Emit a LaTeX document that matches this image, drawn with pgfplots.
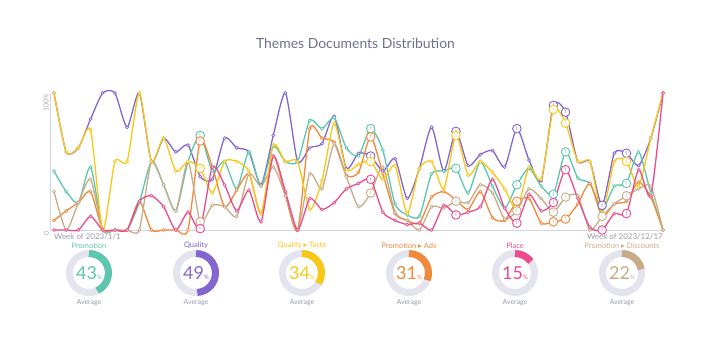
\documentclass[border=0pt]{standalone}
\usepackage{pgfplots}
\pgfplotsset{compat=1.18}
\usepackage{pgfplotstable}
\usepackage{fontspec}
\setmainfont{Lato}
\newfontfamily\symfont{DejaVu Sans}
\definecolor{cteal}{HTML}{5DC6AE}
\definecolor{cpurple}{HTML}{8466CF}
\definecolor{cyellow}{HTML}{F7C815}
\definecolor{corange}{HTML}{F0893A}
\definecolor{cpink}{HTML}{EE4B8E}
\definecolor{cbeige}{HTML}{C8AB88}
\definecolor{ctitle}{HTML}{6D7191}
\definecolor{clabel}{HTML}{9A9AAA}
\definecolor{caxis}{HTML}{D3D6E2}
\definecolor{ctrack}{HTML}{E4E4EF}

\pgfplotstableread{
x teal purple yellow orange pink beige
0 43 100 100 7 0 28
1 28 57 57 14 0 0
2 20 60 60 20 0 20
3 46 81 73 28 10 37
4 0 100 0 0 0 0
5 0 100 50 0 0 0
6 0 75 50 0 0 0
7 20 100 100 21 21 0
8 50 50 50 0 25 50
9 33 67 67 0 17 33
10 14 57 43 0 0 14
11 50 62 50 0 13 50
12 69 39 45 65 1 6
13 43 37 27 46 46 18
14 50 67 50 17 33 17
15 30 60 50 29 14 10
16 57 57 43 41 29 41
17 32 33 12 12 6 32
18 61 69 62 54 54 46
19 50 100 50 25 28 25
20 50 50 50 0 0 0
21 80 60 15 74 23 41
22 74 63 36 67 15 30
23 82 83 78 64 20 63
24 60 45 44 40 30 39
25 54 56 48 42 34 17
26 74 54 50 68 37 27
27 58 43 37 41 13 46
28 19 52 47 12 7 13
29 11 23 12 7 4 7
30 10 45 45 5 5 0
31 41 75 50 24 0 17
32 43 43 30 28 18 16
33 45 72 69 22 11 21
34 27 47 40 15 13 20
35 50 55 50 28 17 33
36 32 58 42 9 37 27
37 16 46 30 7 16 8
38 33 74 15 21 5 14
39 45 51 46 23 26 30
40 32 36 37 5 14 23
41 26 91 88 6 20 13
42 57 86 78 8 44 24
43 38 50 50 19 23 25
44 34 50 50 34 2 0
45 15 18 12 10 0 10
46 32 56 50 19 12 19
47 34 56 50 21 12 25
48 57 47 32 35 44 30
49 27 67 67 24 25 32
50 0 100 100 0 100 0
}\datatable

\pgfplotsset{
  ser/.style={color=#1, line width=1.3bp, smooth, tension=0.4, mark=*, mark size=1.5bp,
    mark options={fill=white, draw=#1, line width=0.7bp}},
  anom/.style={only marks, mark=*, mark size=4.3bp,
    mark options={fill=white, draw=#1, line width=0.9bp},
    nodes near coords={!},
    every node near coord/.append style={anchor=center, inner sep=0pt, text=#1,
      font=\fontsize{5}{5}\selectfont\bfseries}},
}

\begin{document}
\begin{tikzpicture}[x=1bp,y=1bp]
\path[use as bounding box] (0,0) rectangle (711,360);
\node[text=ctitle, font=\fontsize{14}{16}\selectfont] at (355.5,317) {Themes Documents Distribution};
\begin{axis}[at={(50bp,130bp)}, anchor=south west, scale only axis,
  width=613bp, height=137bp, xmin=-0.33, xmax=50, ymin=0, ymax=100,
  axis x line=bottom, axis y line=left,
  axis line style={draw=caxis, line width=0.8bp, -},
  xtick=\empty, ytick={0,100}, yticklabels={0,100\%},
  yticklabel style={rotate=90, anchor=south east, text=clabel!85,
    font=\fontsize{7}{7}\selectfont, inner sep=1pt},
  major tick length=0, clip=false]
\addplot[ser=cpurple] table[x=x,y=purple]{\datatable};
\addplot[ser=cteal] table[x=x,y=teal]{\datatable};
\addplot[ser=corange] table[x=x,y=orange]{\datatable};
\addplot[ser=cbeige] table[x=x,y=beige]{\datatable};
\addplot[ser=cyellow] table[x=x,y=yellow]{\datatable};
\addplot[ser=cpink] table[x=x,y=pink]{\datatable};
\addplot[anom=cpurple] coordinates {(26,54) (33,72) (38,74) (41,91) (42,86) (45,18) (47,56)};
\addplot[anom=cteal] coordinates {(12,69) (26,74) (33,45) (38,33) (41,26) (42,57) (47,34)};
\addplot[anom=corange] coordinates {(12,65) (26,68) (38,21) (41,6) (42,8)};
\addplot[anom=cbeige] coordinates {(12,6) (26,27) (33,21) (38,14) (41,13) (42,24) (45,10) (47,25)};
\addplot[anom=cyellow] coordinates {(12,45) (26,50) (33,69) (41,88) (42,78) (47,50)};
\addplot[anom=cpink] coordinates {(12,1) (26,37) (33,11) (38,5) (41,20) (42,44) (45,0) (47,12)};
\node[anchor=north west, text=clabel, font=\fontsize{8}{9}\selectfont, inner sep=0pt] at (axis cs:0,0) [yshift=-3bp] {Week of 2023/1/1};
\node[anchor=north east, text=clabel, font=\fontsize{8}{9}\selectfont, inner sep=0pt] at (axis cs:50,0) [yshift=-3bp] {Week of 2023/12/17};
\end{axis}
\foreach \cx/\v/\c/\lab in {89/43/cteal/{Promotion}, 196/49/cpurple/{Quality},
  302/34/cyellow/{Quality {\symfont ▸} Taste}, 409/31/corange/{Promotion {\symfont ▸} Ads},
  515/15/cpink/{Place}, 622/22/cbeige/{Promotion {\symfont ▸} Discounts}} {
  \draw[ctrack, line width=7bp] (\cx,87) circle (19.5);
  \draw[\c, line width=7bp] (\cx,106.5) arc[start angle=90, end angle={90-3.6*\v}, radius=19.5];
  \node[text=\c, font=\fontsize{18}{18}\selectfont, inner sep=0pt] at (\cx,87) {\v{\fontsize{6}{6}\selectfont\%}};
  \node[text=\c, font=\fontsize{7.5}{8}\selectfont] at (\cx,114.5) {\lab};
  \node[text=clabel, font=\fontsize{7}{8}\selectfont] at (\cx,57.5) {Average};
}
\end{tikzpicture}
\end{document}
